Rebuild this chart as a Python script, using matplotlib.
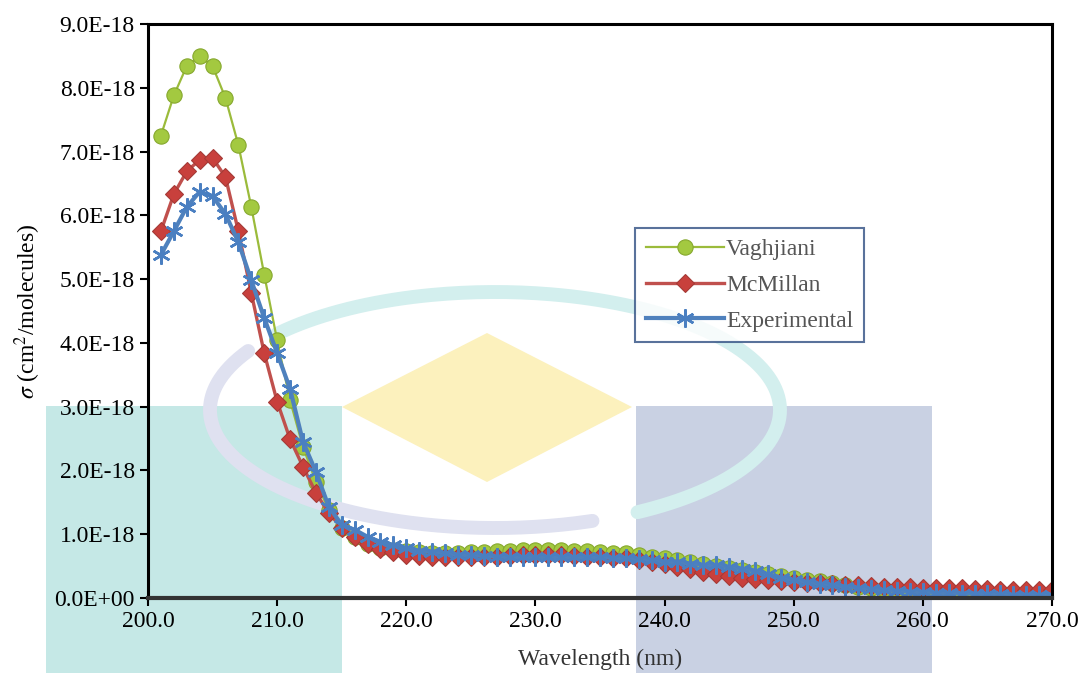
import numpy as np
import matplotlib
matplotlib.use('Agg')
import matplotlib.pyplot as plt
from matplotlib.patches import Rectangle, Polygon

plt.rcParams['font.family'] = ['Liberation Serif', 'DejaVu Serif']
plt.rcParams['mathtext.fontset'] = 'stix'

# wavelength (nm), one point per nm
wavelength = np.arange(201, 271)

# cross sections in units of 1E-18 cm2/molecule
vaghjiani = [7.25, 7.88, 8.34, 8.50, 8.34, 7.84, 7.10, 6.13, 5.07, 4.04,
             3.10, 2.37, 1.82, 1.38, 1.10, 0.95, 0.85, 0.79, 0.75, 0.73,
             0.72, 0.71, 0.71, 0.71, 0.72, 0.72, 0.73, 0.74, 0.75, 0.75,
             0.75, 0.75, 0.74, 0.73, 0.72, 0.71, 0.70, 0.68, 0.65, 0.62,
             0.59, 0.56, 0.53, 0.50, 0.47, 0.44, 0.41, 0.38, 0.35, 0.32,
             0.29, 0.26, 0.23, 0.21, 0.18, 0.16, 0.14, 0.12, 0.10, 0.09,
             0.08, 0.07, 0.06, 0.05, 0.04, 0.03, 0.03, 0.02, 0.02, 0.01]
mcmillan = [5.75, 6.33, 6.69, 6.87, 6.90, 6.60, 5.75, 4.78, 3.84, 3.08,
            2.49, 2.06, 1.65, 1.33, 1.10, 0.95, 0.84, 0.77, 0.72, 0.68,
            0.66, 0.65, 0.64, 0.64, 0.64, 0.64, 0.65, 0.66, 0.67, 0.67,
            0.67, 0.67, 0.66, 0.65, 0.64, 0.63, 0.62, 0.60, 0.57, 0.53,
            0.49, 0.45, 0.41, 0.37, 0.34, 0.32, 0.30, 0.28, 0.27, 0.25,
            0.24, 0.23, 0.22, 0.21, 0.20, 0.19, 0.18, 0.17, 0.17, 0.16,
            0.16, 0.15, 0.15, 0.14, 0.14, 0.13, 0.13, 0.13, 0.12, 0.12]
experimental = [5.38, 5.75, 6.13, 6.37, 6.30, 6.02, 5.58, 4.98, 4.39, 3.84,
                3.28, 2.45, 1.98, 1.43, 1.15, 1.07, 0.96, 0.88, 0.83, 0.78,
                0.74, 0.72, 0.70, 0.68, 0.67, 0.66, 0.65, 0.64, 0.64, 0.64,
                0.64, 0.64, 0.64, 0.64, 0.64, 0.63, 0.62, 0.61, 0.59, 0.57,
                0.56, 0.54, 0.52, 0.51, 0.49, 0.46, 0.43, 0.37, 0.32, 0.28,
                0.25, 0.22, 0.20, 0.18, 0.16, 0.14, 0.12, 0.11, 0.10, 0.09,
                0.08, 0.08, 0.07, 0.07, 0.06, 0.06, 0.05, 0.05, 0.05, 0.05]

W, H = 1084, 673
fig = plt.figure(figsize=(W / 100, H / 100), dpi=100)

# faint logo watermark behind the plot, in pixel coords
bg = fig.add_axes([0, 0, 1, 1], zorder=0)
bg.set_xlim(0, W)
bg.set_ylim(H, 0)
bg.axis('off')
bg.add_patch(Rectangle((46, 406), 296, 267, color='#c5e8e6', lw=0))
bg.add_patch(Rectangle((636, 406), 296, 267, color='#c9d1e3', lw=0))
bg.add_patch(Polygon([(487, 333), (632, 407), (487, 482), (342, 407)],
                     closed=True, color='#fcf1bd', lw=0))
t = np.linspace(np.radians(-60), np.radians(140), 200)
bg.plot(495 + 285 * np.cos(t), 410 - 118 * np.sin(t), color='#d3efee',
        lw=10, solid_capstyle='round')
t = np.linspace(np.radians(150), np.radians(290), 200)
bg.plot(495 + 285 * np.cos(t), 410 - 118 * np.sin(t), color='#dfe1f0',
        lw=10, solid_capstyle='round')

ax = fig.add_axes([148 / W, 1 - 598 / H, (1052 - 148) / W, (598 - 24) / H], zorder=1)
ax.patch.set_alpha(0)

scale = 1e-18
ax.plot(wavelength, np.array(vaghjiani) * scale, color='#9bbb3b', lw=1.6,
        marker='o', ms=11, mfc='#a3c940', mec='#86a82e', mew=0.8, label='Vaghjiani')
ax.plot(wavelength, np.array(mcmillan) * scale, color='#c0504d', lw=2.4,
        marker='D', ms=9, mfc='#c8403c', mec='#a53a36', mew=0.8, label='McMillan')
ax.plot(wavelength, np.array(experimental) * scale, color='#4f81bd', lw=3,
        marker=(6, 2, 0), ms=13, mec='#4a7fc1', mew=1.8, label='Experimental')

ax.set_xlim(200, 270)
ax.set_ylim(0, 9e-18)
ax.set_xticks(np.arange(200, 271, 10))
ax.set_xticklabels(['%.1f' % v for v in np.arange(200, 271, 10)])
yt = np.arange(0, 10) * 1e-18
ax.set_yticks(yt)
ax.set_yticklabels(['%.1E' % v for v in yt])
ax.tick_params(labelsize=17, length=6, width=1.5, direction='out', colors='#000000')
for s in ax.spines.values():
    s.set_linewidth(2.2)
    s.set_color('black')
ax.spines['bottom'].set_color('#333333')
ax.spines['bottom'].set_linewidth(3)

ax.set_xlabel('Wavelength (nm)', fontsize=17, color='#333333', labelpad=12)
ax.set_ylabel(r'$\sigma$ (cm$^2$/molecules)', fontsize=17, labelpad=8)

leg = ax.legend(loc='upper left', bbox_to_anchor=(635 / W, 1 - 228 / H),
                bbox_transform=fig.transFigure, fontsize=17, frameon=True,
                fancybox=False, borderpad=0.45, labelspacing=0.6,
                handlelength=3.3, handletextpad=0.1, borderaxespad=0)
leg.get_frame().set_edgecolor('#2f4f82')
leg.get_frame().set_linewidth(1.5)
for txt in leg.get_texts():
    txt.set_color('#555555')

fig.savefig('out.png', dpi=100)
